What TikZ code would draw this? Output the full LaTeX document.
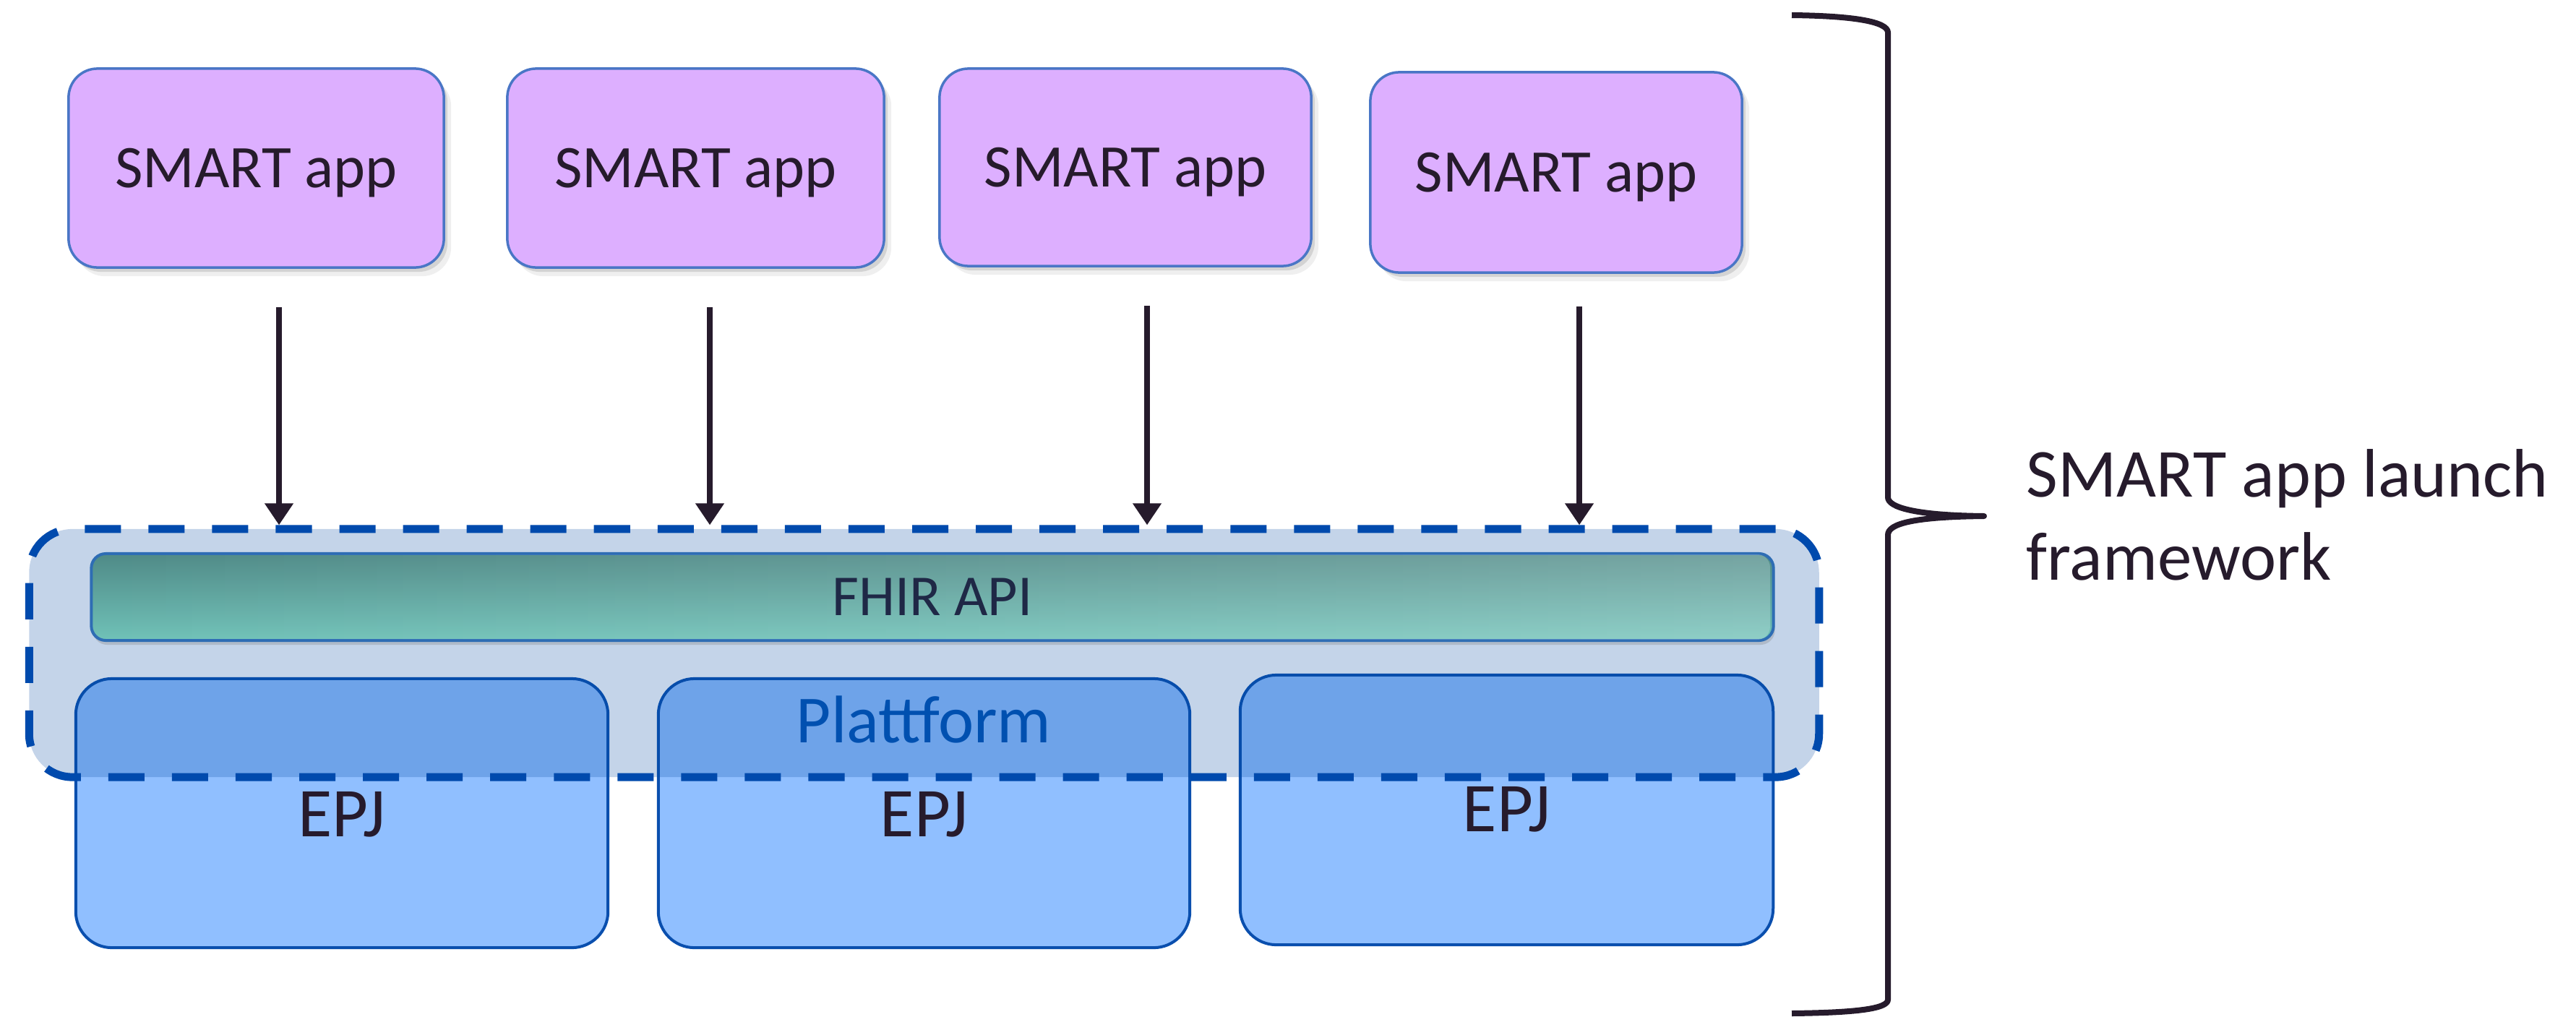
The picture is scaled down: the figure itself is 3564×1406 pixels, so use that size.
\documentclass[tikz,border=0pt]{standalone}
\usepackage{fontspec}
\setmainfont{Carlito}
\usetikzlibrary{arrows.meta,shadows,fadings}
\definecolor{appfill}{HTML}{DDAFFF}
\definecolor{appdraw}{HTML}{4A76C6}
\definecolor{ink}{HTML}{261B2C}
\definecolor{dashblue}{HTML}{004AAD}
\definecolor{platfill}{HTML}{0048A4}
\definecolor{epjfill}{HTML}{90BFFF}
\definecolor{epjdraw}{HTML}{0A4FAE}
\definecolor{fhirtop}{HTML}{4F8A87}
\definecolor{fhirbot}{HTML}{70C2B8}
\definecolor{fhirdraw}{HTML}{2E6DB4}
\definecolor{fhirtext}{HTML}{1F2846}
\definecolor{plattext}{HTML}{0050B0}
\tikzfading[name=fadeR, left color=transparent!100, right color=transparent!0]
\begin{document}
\begin{tikzpicture}[x=0.01cm,y=-0.01cm,
  appbox/.style={draw=appdraw, line width=0.035cm, fill=appfill, rounded corners=0.4cm,
    text=ink, font=\fontsize{23.8}{28}\selectfont, text depth=0pt, inner sep=0pt,
    drop shadow={shadow xshift=0.05cm, shadow yshift=-0.06cm, opacity=0.25},
    drop shadow={shadow xshift=0.1cm, shadow yshift=-0.12cm, opacity=0.12}},
  epjbox/.style={draw=epjdraw, line width=0.04cm, fill=epjfill, rounded corners=0.5cm, inner sep=0pt},
  epjlabel/.style={text=ink, font=\fontsize{27.5}{32}\selectfont, inner sep=0pt, anchor=base},
  platbox/.style={draw=dashblue, line width=0.11cm, dash pattern=on 0.5cm off 0.38cm,
    fill=platfill, fill opacity=0.23, draw opacity=1, rounded corners=0.6cm, inner sep=0pt},
  fhirbox/.style={draw=fhirdraw, line width=0.04cm, top color=fhirtop, bottom color=fhirbot,
    rounded corners=0.2cm, inner sep=0pt,
    drop shadow={shadow xshift=0.02cm, shadow yshift=-0.06cm, opacity=0.3}},
  flow/.style={draw=ink, line width=0.075cm, -{Triangle[width=0.38cm,length=0.3cm]}},
  bracestyle/.style={draw=ink, line width=0.08cm, line join=round},
  sidelabel/.style={text=ink, font=\fontsize{27}{32.7}\selectfont, inner sep=0pt, anchor=base west}
]
\useasboundingbox (0,0) rectangle (3564,1406);
\fill[white] (0,0) rectangle (3564,1406);

% EPJ boxes
\node[epjbox, minimum width=7.36cm, minimum height=3.72cm] (epj1) at (473,1125) {};
\node[epjbox, minimum width=7.35cm, minimum height=3.72cm] (epj2) at (1278.5,1125) {};
\node[epjbox, minimum width=7.37cm, minimum height=3.73cm] (epj3) at (2084.5,1120.5) {};

% Platform
\node[platbox, minimum width=24.75cm, minimum height=3.43cm] (plat) at (1278.5,903.5) {};

% FHIR API bar
\node[fhirbox, minimum width=23.26cm, minimum height=1.2cm] (fhir) at (1290,826) {};
\fill[white, opacity=0.22, path fading=fadeR, rounded corners=0.18cm]
  ([xshift=0.03cm,yshift=0.03cm]fhir.south west) rectangle ([xshift=-0.03cm,yshift=-0.03cm]fhir.north east);
\node[text=fhirtext, font=\fontsize{22.8}{27}\selectfont, text depth=0pt, inner sep=0pt] (fhirlbl) at (fhir.center) {FHIR API};

\node[text=plattext, font=\fontsize{26.5}{32}\selectfont, inner sep=0pt, anchor=base] (platlbl) at (1278,1027) {Plattform};

\node[epjlabel] (epjl1) at (473,1157) {EPJ};
\node[epjlabel] (epjl2) at (1278.5,1157) {EPJ};
\node[epjlabel] (epjl3) at (2084.5,1150) {EPJ};

% SMART apps
\node[appbox, minimum width=5.19cm, minimum height=2.75cm] (app1) at (354.5,232.5) {SMART app};
\node[appbox, minimum width=5.21cm, minimum height=2.75cm] (app2) at (962.5,232.5) {SMART app};
\node[appbox, minimum width=5.14cm, minimum height=2.73cm] (app3) at (1557,231.5) {SMART app};
\node[appbox, minimum width=5.14cm, minimum height=2.77cm] (app4) at (2153,238.5) {SMART app};

% arrows
\draw[flow] ([xshift=0.315cm,yshift=-0.53cm]app1.south) -- ([xshift=0.315cm]app1.south |- plat.north);
\draw[flow] ([xshift=0.195cm,yshift=-0.53cm]app2.south) -- ([xshift=0.195cm]app2.south |- plat.north);
\draw[flow] ([xshift=0.30cm,yshift=-0.53cm]app3.south) -- ([xshift=0.30cm]app3.south |- plat.north);
\draw[flow] ([xshift=0.32cm,yshift=-0.45cm]app4.south) -- ([xshift=0.32cm]app4.south |- plat.north);

% brace
\draw[bracestyle] (2479,21) .. controls (2565,22) and (2612,30) .. (2612,45)
  -- (2612,688) .. controls (2612,702) and (2650,713) .. (2745,714)
  .. controls (2650,715) and (2612,724) .. (2612,740)
  -- (2612,1383) .. controls (2612,1396) and (2565,1401) .. (2479,1402);

\node[sidelabel] (lbl1) at (2803,687) {SMART app launch};
\node[sidelabel] (lbl2) at (2803,802) {framework};
\end{tikzpicture}
\end{document}
